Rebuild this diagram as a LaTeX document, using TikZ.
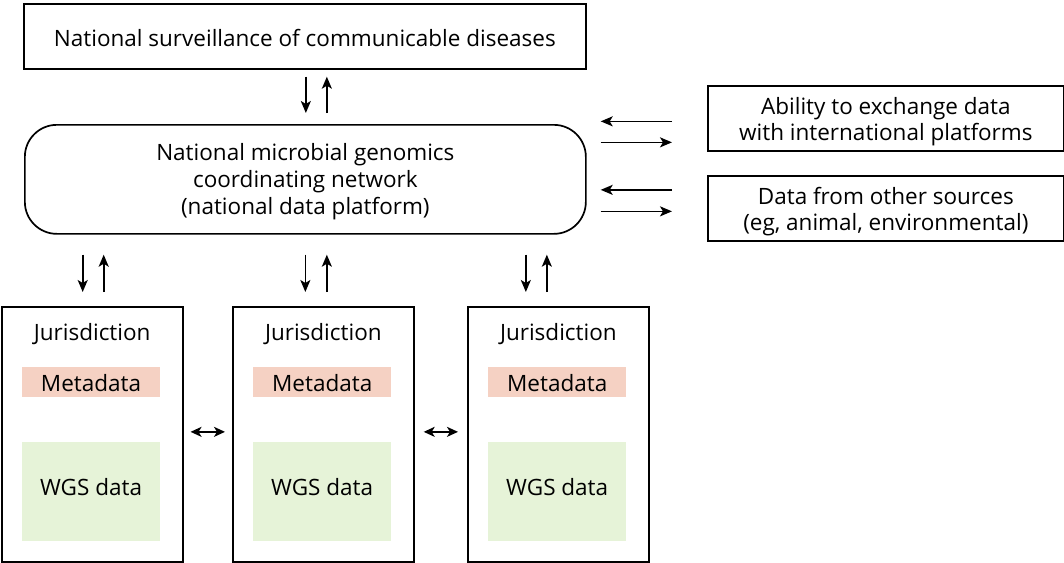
\documentclass[tikz,border=0pt]{standalone}
\usepackage{fontspec}
\setmainfont{Open Sans}
\usetikzlibrary{arrows.meta,calc}
\definecolor{metafill}{HTML}{F5D1C3}
\definecolor{wgsfill}{HTML}{E6F3D8}
\newcommand{\lowerby}[2]{\raisebox{0pt}[\dimexpr\height+#1\relax][\depth]{#2}}
\begin{document}
\begin{tikzpicture}[x=1pt,y=-1pt,
  font=\fontsize{22.5}{27}\selectfont,
  box/.style={draw, line width=1.7pt, inner sep=0pt, align=center, anchor=north west},
  fillbox/.style={inner sep=0pt, anchor=north west, align=center},
  arr/.style={line width=1.7pt, -{Stealth[length=12pt,width=10pt,inset=3pt]}},
  darr/.style={line width=1.7pt, {Stealth[length=11pt,width=10pt,inset=3pt]}-{Stealth[length=11pt,width=10pt,inset=3pt]}}]
\useasboundingbox (0,0) rectangle (1064,562);

% top
\node[box, minimum width=562pt, minimum height=65pt] (top) at (23,3) {\lowerby{4pt}{National surveillance of communicable diseases}};
% rounded
\node[box, rounded corners=32pt, minimum width=561pt, minimum height=109pt] (nat) at (24,124)
  {\lowerby{4pt}{\parbox{500pt}{\centering National microbial genomics\\coordinating network\\(national data platform)}}};
% right boxes
\node[box, minimum width=356pt, minimum height=65pt] (ab) at (707,85) {\lowerby{6pt}{\parbox{350pt}{\centering\lineskiplimit=-10pt\baselineskip=26pt Ability to exchange data\\with international platforms}}};
\node[box, minimum width=356pt, minimum height=65pt] (ds) at (707,175) {\lowerby{6pt}{\parbox{350pt}{\centering\lineskiplimit=-10pt\baselineskip=26pt Data from other sources\\(eg, animal, environmental)}}};

% jurisdictions
\foreach \i/\x in {1/0.85,2/232,3/467}{
  \node[box, minimum width=181pt, minimum height=255pt] (j\i) at (\x,306) {};
  \node[anchor=center] (jt\i) at ($(j\i.north)+(0,28)$) {Jurisdiction};
  \node[fillbox, fill=metafill, minimum width=138pt, minimum height=30pt] (m\i) at ($(j\i.north west)+(21,61)$) {\lowerby{2pt}{Metadata}};
  \node[fillbox, fill=wgsfill, minimum width=138pt, minimum height=99pt] (w\i) at ($(j\i.north west)+(21,136)$) {\raisebox{9pt}{WGS data}};
}

% top <-> nat
\draw[arr] ($(top.south)+(1,7)$) -- ($(nat.north)+(0.5,-11)$);
\draw[arr] ($(nat.north)+(21.5,-11)$) -- ($(top.south)+(22,7)$);

% nat <-> jurisdictions
\draw[arr] ($(nat.south -| j1.north)+(-9.5,20)$) -- ($(j1.north)+(-9.5,-14)$);
\draw[arr] ($(j1.north)+(11.5,-14)$) -- ($(nat.south -| j1.north)+(11.5,20)$);
\draw[arr] ($(nat.south -| j2.north)+(-18,20)$) -- ($(j2.north)+(-18,-14)$);
\draw[arr] ($(j2.north)+(3.5,-14)$) -- ($(nat.south -| j2.north)+(3.5,20)$);
\draw[arr] ($(nat.south -| j3.north)+(-32.5,20)$) -- ($(j3.north)+(-32.5,-14)$);
\draw[arr] ($(j3.north)+(-11.5,-14)$) -- ($(nat.south -| j3.north)+(-11.5,20)$);

% nat <-> right boxes
\draw[arr] ($(ab.west)+(-35,3)$) -- ($(nat.east |- ab.west)+(14,3)$);
\draw[arr] ($(nat.east |- ab.west)+(14,24)$) -- ($(ab.west)+(-35,24)$);
\draw[arr] ($(ds.west)+(-35,-18.5)$) -- ($(nat.east |- ds.west)+(14,-18.5)$);
\draw[arr] ($(nat.east |- ds.west)+(14,3)$) -- ($(ds.west)+(-35,3)$);

% between jurisdictions
\draw[darr] ($(j1.east)+(7,-2.5)$) -- ($(j2.west)+(-7,-2.5)$);
\draw[darr] ($(j2.east)+(9,-2.5)$) -- ($(j3.west)+(-9,-2.5)$);
\end{tikzpicture}
\end{document}
